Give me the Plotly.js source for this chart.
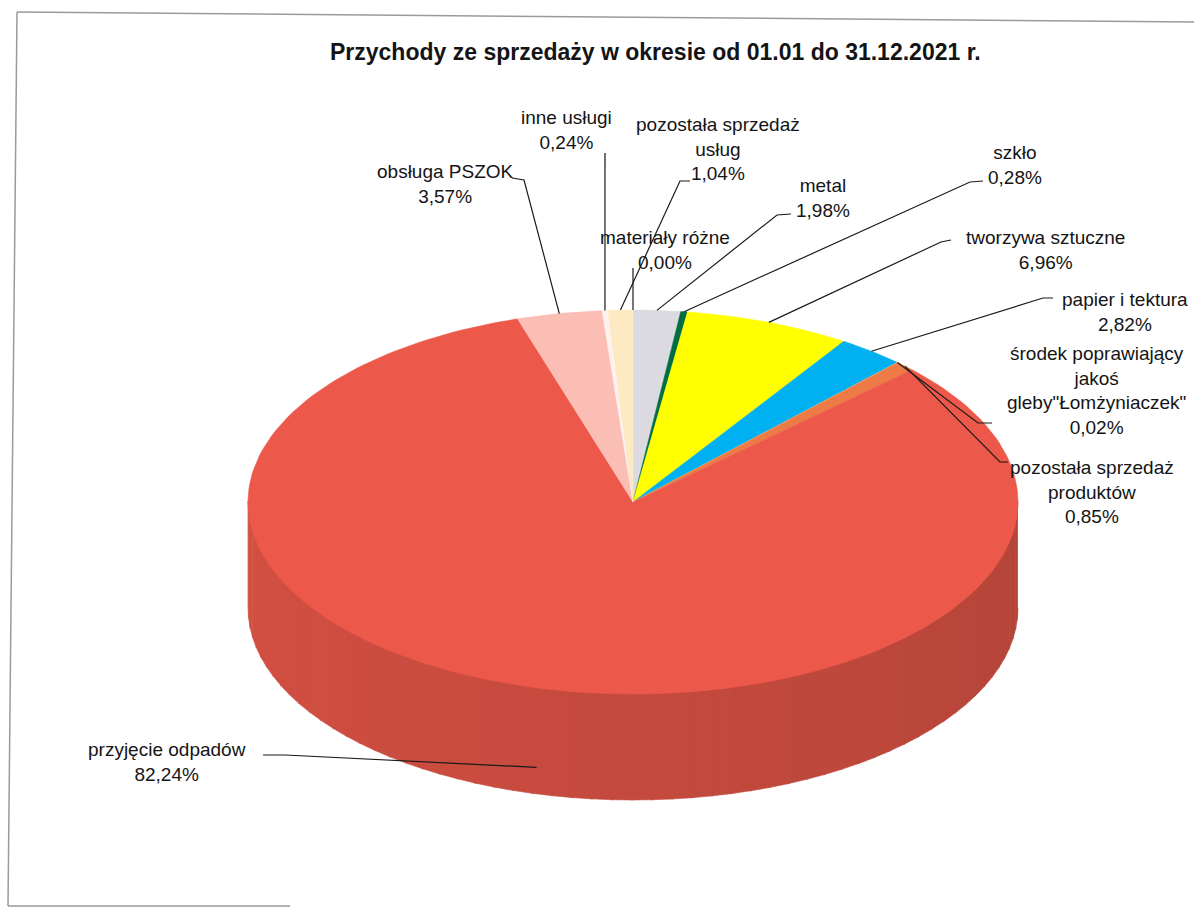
<!DOCTYPE html>
<html>
<head>
<meta charset="utf-8">
<script src="https://cdn.plot.ly/plotly-3.0.1.min.js"></script>
<style>html,body{margin:0;padding:0;background:#fff;}#chart{width:1194px;height:910px;}</style>
</head>
<body>
<div id="chart"></div>
<script>
// ---- data (clockwise from 12 o'clock) ----
const categories = ["metal", "szkło", "tworzywa sztuczne", "papier i tektura",
  "środek poprawiający jakoś gleby\"Łomżyniaczek\"", "pozostała sprzedaż produktów",
  "przyjęcie odpadów", "obsługa PSZOK", "inne usługi", "pozostała sprzedaż usług", "materiały różne"];
const values = [1.98, 0.28, 6.96, 2.82, 0.02, 0.85, 82.24, 3.57, 0.24, 1.04, 0.00];
const labelText = ["metal", "szkło", "tworzywa sztuczne", "papier i tektura",
  "środek poprawiający<br>jakoś<br>gleby\"Łomżyniaczek\"", "pozostała sprzedaż<br>produktów",
  "przyjęcie odpadów", "obsługa PSZOK", "inne usługi", "pozostała sprzedaż<br>usług", "materiały różne"];
const chartTitle = "Przychody ze sprzedaży w okresie od 01.01 do 31.12.2021 r.";

// ---- styles / layout ----
const colors = ["rgb(218,218,224)", "rgb(0,110,66)", "rgb(255,255,0)", "rgb(0,176,240)",
  "rgb(250,222,140)", "rgb(238,122,70)", "rgb(236,89,74)", "rgb(250,190,180)",
  "rgb(255,242,238)", "rgb(253,233,194)", "rgb(205,205,250)"];
const CX = 633, CY = 502, RX = 385, RY = 192, DEPTH = 106;
// label centres and leader anchor points (elbow, tick end)
const labelPos = [[823, 198], [1015, 165], [1045, 250], [1125, 312], [1096, 390], [1092, 492],
  [167, 762], [445, 184], [566, 130], [718, 149], [665, 250]];
const elbow = [[777, 215], [970, 182], [941, 242], [1043, 298], [978, 423], [1000, 462],
  [285, 755], [524, 180], [605, 153], [680, 181], [633, 268]];
const tickEnd = [[791, 214], [983, 181], [951, 240], [1053, 298], [992, 423], [1008, 462],
  [263, 755], [512, 178], [605, 153], [690, 181], [633, 268]];

function pt(deg, dy) {
  const r = deg * Math.PI / 180;
  return [CX + RX * Math.sin(r), CY - RY * Math.cos(r) + (dy || 0)];
}
function shade(rgb, f) {
  const m = rgb.match(/\d+/g).map(Number);
  return "rgb(" + m.map(v => Math.max(0, Math.min(255, Math.round(v * f)))).join(",") + ")";
}

const total = values.reduce((a, b) => a + b, 0);
const starts = [], ends = [];
let acc = 0;
values.forEach(v => { starts.push(acc / total * 360); acc += v; ends.push(acc / total * 360); });

const traces = [];
// side (front half only), drawn in strips for shading
values.forEach((v, i) => {
  const s = Math.max(starts[i], 90), e = Math.min(ends[i], 270);
  if (!(e > s)) return;
  const n = Math.max(1, Math.ceil((e - s) / 3));
  for (let k = 0; k < n; k++) {
    const a1 = s + (e - s) * k / n, a2 = s + (e - s) * (k + 1) / n + 0.3;
    const xs = [], ys = [];
    for (let j = 0; j <= 4; j++) { const p = pt(a1 + (Math.min(a2, e) - a1) * j / 4); xs.push(p[0]); ys.push(p[1] - 1); }
    for (let j = 4; j >= 0; j--) { const p = pt(a1 + (Math.min(a2, e) - a1) * j / 4, DEPTH); xs.push(p[0]); ys.push(p[1]); }
    const mid = (a1 + a2) / 2;               // 90 (right) .. 270 (left)
    const f = 0.76 + 0.14 * (mid - 90) / 180; // darker on the right
    const c = shade(colors[i], f);
    traces.push({type: "scatter", mode: "lines", x: xs, y: ys, fill: "toself", fillcolor: c,
      line: {color: c, width: 0.6}, hoverinfo: "skip", showlegend: false});
  }
});
// top surface slices
values.forEach((v, i) => {
  if (v <= 0) return;
  const xs = [CX], ys = [CY];
  const n = Math.max(2, Math.ceil((ends[i] - starts[i]) / 1.5));
  for (let j = 0; j <= n; j++) { const p = pt(starts[i] + (ends[i] - starts[i]) * j / n); xs.push(p[0]); ys.push(p[1]); }
  xs.push(CX); ys.push(CY);
  traces.push({type: "scatter", mode: "lines", x: xs, y: ys, fill: "toself", fillcolor: colors[i],
    line: {color: colors[i], width: 0.5}, name: categories[i], hoverinfo: "name", showlegend: false});
});
// leader lines
const lx = [], ly = [];
values.forEach((v, i) => {
  const mid = (starts[i] + ends[i]) / 2;
  const front = mid > 90 && mid < 270;
  const p = pt(mid, front ? DEPTH * 0.75 : 0);
  lx.push(p[0], elbow[i][0], tickEnd[i][0], null);
  ly.push(p[1], elbow[i][1], tickEnd[i][1], null);
});
traces.push({type: "scatter", mode: "lines", x: lx, y: ly, line: {color: "#1a1a1a", width: 1.2},
  hoverinfo: "skip", showlegend: false});

const annotations = values.map((v, i) => ({
  x: labelPos[i][0], y: labelPos[i][1], xref: "x", yref: "y", showarrow: false,
  xanchor: "center", yanchor: "middle", align: "center",
  text: labelText[i] + "<br>" + v.toFixed(2).replace(".", ",") + "%",
  font: {family: "Liberation Sans, Arial, sans-serif", size: 19, color: "#141414"}
}));
annotations.push({x: 655, y: 52, xref: "x", yref: "y", showarrow: false, xanchor: "center", yanchor: "middle",
  text: "<b>" + chartTitle + "</b>", font: {family: "Liberation Sans, Arial, sans-serif", size: 23, color: "#141414"}});

const layout = {
  width: 1194, height: 910, margin: {l: 0, r: 0, t: 0, b: 0},
  paper_bgcolor: "#fff", plot_bgcolor: "#fff",
  xaxis: {range: [0, 1194], visible: false, fixedrange: true},
  yaxis: {range: [910, 0], visible: false, fixedrange: true},
  annotations: annotations,
  shapes: [
    {type: "line", xref: "x", yref: "y", x0: 17, y0: 12, x1: 1194, y1: 22, line: {color: "#9a9a9a", width: 1.5}},
    {type: "line", xref: "x", yref: "y", x0: 17, y0: 12, x1: 8, y1: 906, line: {color: "#9a9a9a", width: 1.5}},
    {type: "line", xref: "x", yref: "y", x0: 8, y0: 906, x1: 290, y1: 906, line: {color: "#9a9a9a", width: 1.5}}
  ],
  showlegend: false
};
Plotly.newPlot("chart", traces, layout, {displayModeBar: false, staticPlot: true});
</script>
</body>
</html>
